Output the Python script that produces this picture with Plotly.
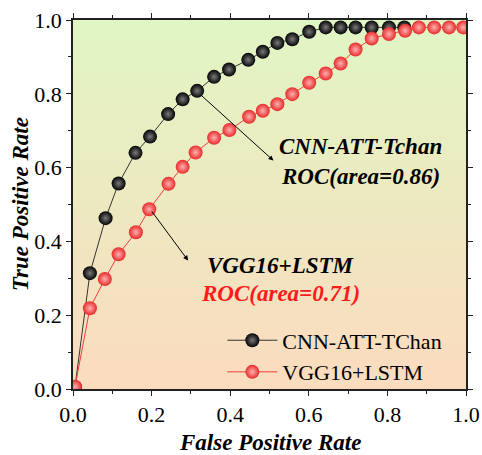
import plotly.graph_objects as go

cnn_fpr = [0.005, 0.043, 0.083, 0.116, 0.159, 0.196, 0.242, 0.279, 0.316, 0.359, 0.397,
           0.446, 0.483, 0.520, 0.558, 0.601, 0.643, 0.681, 0.719, 0.760, 0.804, 0.843]
cnn_tpr = [0.005, 0.314, 0.463, 0.557, 0.640, 0.684, 0.745, 0.785, 0.808, 0.846, 0.866,
           0.892, 0.914, 0.938, 0.948, 0.968, 0.980, 0.980, 0.980, 0.980, 0.980, 0.980]

vgg_fpr = [0.005, 0.043, 0.081, 0.116, 0.160, 0.194, 0.243, 0.279, 0.312, 0.359, 0.398,
           0.448, 0.483, 0.520, 0.558, 0.601, 0.643, 0.681, 0.719, 0.760, 0.804, 0.845,
           0.880, 0.919, 0.957, 0.993]
vgg_tpr = [0.006, 0.219, 0.298, 0.365, 0.425, 0.487, 0.556, 0.602, 0.641, 0.681, 0.702,
           0.738, 0.754, 0.772, 0.799, 0.830, 0.855, 0.882, 0.920, 0.950, 0.962, 0.971,
           0.980, 0.980, 0.980, 0.980]

tick_vals = [0.0, 0.2, 0.4, 0.6, 0.8, 1.0]
tick_text = ["0.0", "0.2", "0.4", "0.6", "0.8", "1.0"]

FONT = "Times New Roman, Liberation Serif, serif"

fig = go.Figure()
fig.add_trace(go.Scatter(
    x=cnn_fpr, y=cnn_tpr, mode="lines+markers", name="CNN-ATT-TChan",
    line=dict(color="#333333", width=1),
    marker=dict(size=14, color="#030303", line=dict(width=0),
                gradient=dict(type="radial", color="#7a7a7a")),
))
fig.add_trace(go.Scatter(
    x=vgg_fpr, y=vgg_tpr, mode="lines+markers", name="VGG16+LSTM",
    line=dict(color="#f03c3c", width=1),
    marker=dict(size=14, color="#e82a2a", line=dict(width=0),
                gradient=dict(type="radial", color="#ffb0b0")),
))

# background vertical gradient (green top -> peach bottom)
top = (224, 246, 196)
bot = (251, 219, 190)
n = 80
shapes = []
for i in range(n):
    t = (i + 0.5) / n
    c = tuple(round(bot[k] + (top[k] - bot[k]) * t) for k in range(3))
    shapes.append(dict(type="rect", xref="x domain", yref="y domain",
                       x0=0, x1=1, y0=i / n, y1=min(1, (i + 1) / n + 0.002),
                       fillcolor="rgb(%d,%d,%d)" % c, line=dict(width=0),
                       layer="below"))

bf = dict(family=FONT, size=23, color="black")
annotations = [
    dict(x=0.510, y=0.619, ax=0.323, ay=0.799, xref="x", yref="y", axref="x", ayref="y",
         showarrow=True, arrowhead=2, arrowsize=1, arrowwidth=1, arrowcolor="black", text=""),
    dict(x=0.293, y=0.348, ax=0.198, ay=0.485, xref="x", yref="y", axref="x", ayref="y",
         showarrow=True, arrowhead=2, arrowsize=1, arrowwidth=1, arrowcolor="black", text=""),
    dict(x=0.732, y=0.657, xref="x", yref="y", showarrow=False,
         xanchor="center", yanchor="middle",
         text="<b><i>CNN-ATT-Tchan</i></b>", font=bf),
    dict(x=0.732, y=0.575, xref="x", yref="y", showarrow=False,
         xanchor="center", yanchor="middle",
         text="<b><i>ROC(area=0.86)</i></b>", font=bf),
    dict(x=0.528, y=0.336, xref="x", yref="y", showarrow=False,
         xanchor="center", yanchor="middle",
         text="<b><i>VGG16+LSTM</i></b>", font=bf),
    dict(x=0.527, y=0.259, xref="x", yref="y", showarrow=False,
         xanchor="center", yanchor="middle",
         text="<b><i>ROC(area=0.71)</i></b>", font=dict(family=FONT, size=23, color="#ff1a1a")),
    dict(x=0.5, y=-0.146, xref="paper", yref="paper", showarrow=False,
         xanchor="center", yanchor="middle",
         text="<b><i>False Positive Rate</i></b>", font=bf),
    dict(x=-0.133, y=0.5, xref="paper", yref="paper", showarrow=False, textangle=-90,
         xanchor="center", yanchor="middle",
         text="<b><i>True Positive Rate</i></b>", font=bf),
]

axis_common = dict(
    range=[0, 1], showgrid=False, zeroline=False, showline=True, linecolor="#222222",
    linewidth=1.5, mirror="ticks", ticks="outside", ticklen=5, tickwidth=1.2,
    tickcolor="#222222", tickvals=tick_vals, ticktext=tick_text, automargin=False,
    tickfont=dict(family=FONT, size=22, color="black"),
    minor=dict(dtick=0.1, ticks="outside", ticklen=3, tickwidth=1, tickcolor="#222222"),
)

fig.update_layout(
    width=482, height=455,
    margin=dict(l=73, r=16, t=20, b=66, autoexpand=False),
    paper_bgcolor="white", plot_bgcolor="white",
    xaxis=dict(**axis_common),
    yaxis=dict(**axis_common),
    shapes=shapes,
    annotations=annotations,
    showlegend=True,
    legend=dict(x=0.38, y=-0.012, xanchor="left", yanchor="bottom",
                bgcolor="rgba(0,0,0,0)", font=dict(family=FONT, size=22, color="black"),
                itemwidth=50, tracegroupgap=0),
    font=dict(family=FONT),
)

fig.write_html("out.html")
